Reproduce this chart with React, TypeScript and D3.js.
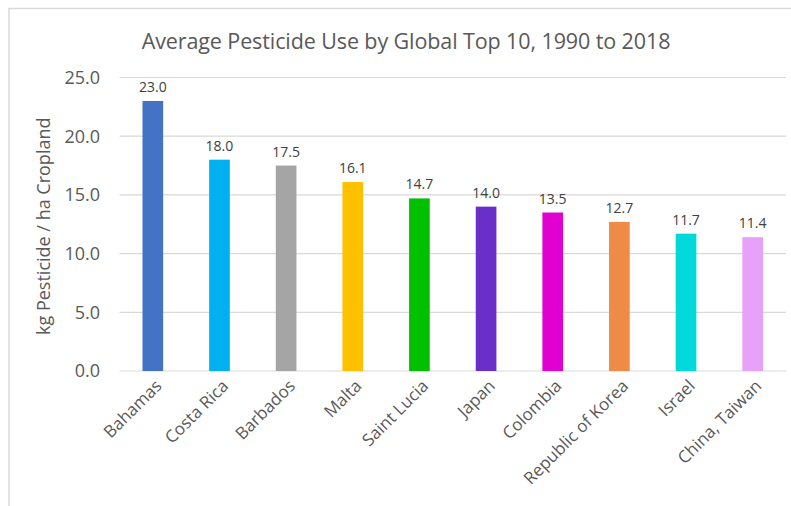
import React from "react";
import * as d3 from "d3";

const countries = [
  "Bahamas",
  "Costa Rica",
  "Barbados",
  "Malta",
  "Saint Lucia",
  "Japan",
  "Colombia",
  "Republic of Korea",
  "Israel",
  "China, Taiwan",
];
const values = [23.0, 18.0, 17.5, 16.1, 14.7, 14.0, 13.5, 12.7, 11.7, 11.4];
const barColors = [
  "#4472C4",
  "#00B0F0",
  "#A5A5A5",
  "#FFC000",
  "#00C000",
  "#6A2FC8",
  "#E000CF",
  "#ED8B47",
  "#00D8DA",
  "#E6A2F8",
];
const yTicks = [0, 5, 10, 15, 20, 25];

const W = 791;
const H = 506;
const FONT = "'Open Sans', 'Noto Sans', sans-serif";

export default function App() {
  const x = d3
    .scaleBand<string>()
    .domain(countries)
    .range([119.5, 786])
    .paddingInner(0.69)
    .paddingOuter(0.345);
  const y = d3.scaleLinear().domain([0, 25]).range([371, 77.5]);
  const fmt = d3.format(".1f");

  return (
    <svg
      width={W}
      height={H}
      style={{ position: "absolute", left: 0, top: 0, background: "#fff" }}
      fontFamily={FONT}
    >
      {/* chart frame */}
      <path d={`M9,${H} V8.5 H${W}`} fill="none" stroke="#D9D9D9" strokeWidth={1.5} />

      <text x={406} y={49} textAnchor="middle" fontSize={21.5} fill="#595959" letterSpacing={-0.1}>
        Average Pesticide Use by Global Top 10, 1990 to 2018
      </text>

      {/* gridlines */}
      {yTicks.map((t) => (
        <line
          key={t}
          x1={119.5}
          x2={786}
          y1={y(t)}
          y2={y(t)}
          stroke="#D9D9D9"
          strokeWidth={1.2}
        />
      ))}

      {/* y tick labels */}
      {yTicks.map((t) => (
        <text
          key={t}
          x={100}
          y={y(t)}
          dy="0.35em"
          textAnchor="end"
          fontSize={18}
          fill="#595959"
        >
          {fmt(t)}
        </text>
      ))}

      <text
        transform={`translate(50,${(y(0) + y(25)) / 2 + 2}) rotate(-90)`}
        textAnchor="middle"
        fontSize={18}
        fill="#595959"
      >
        kg Pesticide / ha Cropland
      </text>

      {/* bars */}
      {countries.map((c, i) => (
        <rect
          key={c}
          x={x(c)}
          y={y(values[i])}
          width={x.bandwidth()}
          height={y(0) - y(values[i])}
          fill={barColors[i]}
        />
      ))}

      {/* value labels */}
      {countries.map((c, i) => (
        <text
          key={c}
          x={(x(c) as number) + x.bandwidth() / 2}
          y={y(values[i]) - 9}
          textAnchor="middle"
          fontSize={14}
          fill="#404040"
        >
          {fmt(values[i])}
        </text>
      ))}

      {/* category labels */}
      {countries.map((c) => {
        const cx = (x(c) as number) + x.bandwidth() / 2 + 10;
        return (
          <text
            key={c}
            transform={`translate(${cx},${387}) rotate(-45)`}
            textAnchor="end"
            fontSize={17}
            fill="#595959"
          >
            {c}
          </text>
        );
      })}
    </svg>
  );
}
